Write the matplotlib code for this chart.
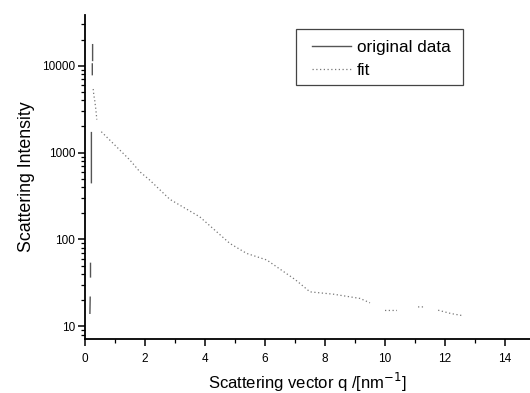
import numpy as np
import matplotlib
matplotlib.use("Agg")
import matplotlib.pyplot as plt
from matplotlib.patches import Rectangle

plt.rcParams['font.family'] = ['Liberation Sans', 'DejaVu Sans']

# original data (nearly vertical segments at small q), NaN = break
orig_q = [0.17, 0.18, np.nan, 0.19, 0.19, np.nan, 0.22, 0.22, np.nan, 0.25, 0.25, np.nan, 0.26, 0.26]
orig_I = [14.1, 21.6, np.nan, 37, 53, np.nan, 450, 1700, np.nan, 7900, 10500, np.nan, 11500, 17500]

# fit curve
fit_q = [0.28, 0.30, 0.33, 0.37, 0.40, np.nan, 0.55, 0.94, 1.5, 1.83, 2.17, 2.83, 3.83,
         4.83, 5.39, 6.06, 7.0, 7.17, 7.5, 8.28, 9.17, 9.5, np.nan, 10.0, 10.4, np.nan,
         11.1, 11.3, np.nan, 11.77, 12.2, 12.56]
fit_I = [5400, 4600, 4000, 3100, 2400, np.nan, 1740, 1280, 822, 603, 480, 290, 182,
         90, 69, 58, 34.6, 31, 24.9, 23.4, 20.9, 18.6, np.nan, 15.2, 15.2, np.nan,
         16.7, 16.7, np.nan, 15.3, 14.0, 13.3]

fig = plt.figure(figsize=(5.30, 3.93), dpi=100)
ax = fig.add_axes([0.160, 0.137, 0.840, 0.825])

ax.plot(orig_q, orig_I, color='#555555', lw=1.0, ls='-', label='original data')
ax.plot(fit_q, fit_I, color='#777777', lw=0.9, ls=(0, (1, 2)), label='fit')

ax.set_yscale('log')
ax.set_xlim(0, 14.83)
ax.set_ylim(7.1, 38500)
ax.set_xticks([0, 2, 4, 6, 8, 10, 12, 14])
ax.set_xticks([1, 3, 5, 7, 9, 11, 13], minor=True)
ax.set_yticks([10, 100, 1000, 10000])
ax.set_yticklabels(['10', '100', '1000', '10000'])

for s in ['top', 'right']:
    ax.spines[s].set_visible(False)
for s in ['left', 'bottom']:
    ax.spines[s].set_linewidth(1.3)

ax.tick_params(which='major', direction='out', length=5, width=1.1, labelsize=8.5, pad=2)
ax.tick_params(axis='x', which='major', pad=5)
ax.tick_params(which='minor', direction='out', length=3, width=0.9)

ax.set_xlabel('Scattering vector q /[nm$^{\\mathsf{-1}}$]', fontsize=12, labelpad=4)
ax.set_ylabel('Scattering Intensity', fontsize=12.8, labelpad=5)

# legend frame drawn separately to match the wide box
ax.add_patch(Rectangle((0.474, 0.784), 0.375, 0.173, transform=ax.transAxes,
                       facecolor='white', edgecolor='#444444', lw=0.9, zorder=4,
                       clip_on=False))
leg = ax.legend(loc='upper left', bbox_to_anchor=(0.510, 0.923), fontsize=12.3,
                frameon=False, handlelength=2.3, borderpad=0.0, labelspacing=0.47,
                handletextpad=0.35, borderaxespad=0.0)
leg.set_zorder(5)

fig.savefig('out.png', dpi=100)
